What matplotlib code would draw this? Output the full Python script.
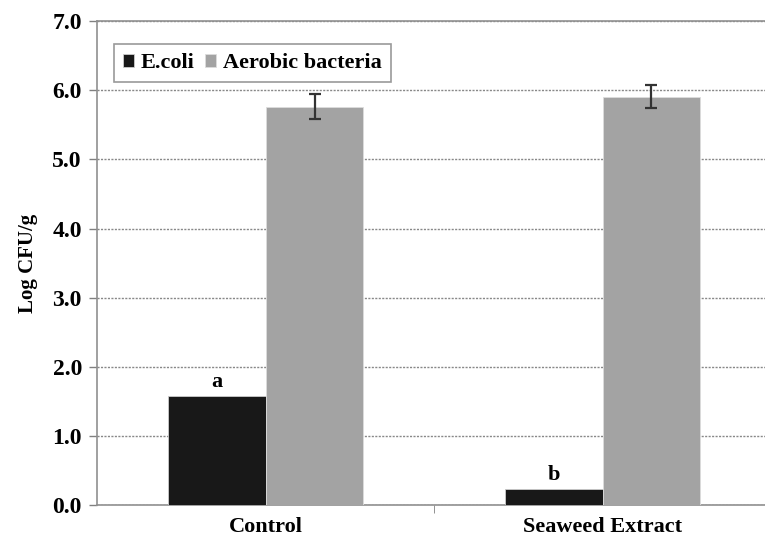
import numpy as np
import matplotlib.pyplot as plt

# data
groups = ['Control', 'Seaweed Extract']
ecoli = [1.58, 0.23]
aerobic = [5.76, 5.91]
aerobic_err = [0.18, 0.17]
letters = ['a', 'b']

plt.rcParams['font.family'] = ['Liberation Serif', 'DejaVu Serif']
plt.rcParams['font.weight'] = 'bold'

fig, ax = plt.subplots(figsize=(7.65, 5.43), dpi=100)
fig.subplots_adjust(left=0.127, right=1.008, top=0.961, bottom=0.07)

pos = np.arange(len(groups))
w = 0.29
ax.bar(pos - w / 2, ecoli, w, color='#181818', edgecolor='#cccccc', linewidth=0.6,
       label='E.coli', zorder=3)
ax.bar(pos + w / 2, aerobic, w, color='#a3a3a3', edgecolor='#dddddd', linewidth=0.6,
       label='Aerobic bacteria', zorder=3)
ax.errorbar(pos + w / 2, aerobic, yerr=aerobic_err, fmt='none', ecolor='#333333',
            elinewidth=1.6, capsize=4, capthick=1.6, zorder=4)

for p, v, t in zip(pos, ecoli, letters):
    ax.text(p - w / 2, v + 0.06, t, ha='center', va='bottom', fontsize=16,
            fontweight='bold')

ax.set_xlim(-0.5, 1.5)
ax.set_ylim(0, 7)
yt = np.arange(0, 7.01, 1.0)
ax.set_yticks(yt)
ax.set_yticklabels([f'{v:.1f}' for v in yt], fontsize=17, fontweight='bold')
ax.set_xticks(pos)
ax.set_xticklabels(groups, fontsize=16, fontweight='bold')
ax.set_xticks([0.5], minor=True)
ax.tick_params(axis='x', which='major', length=0, pad=9)
ax.tick_params(axis='x', which='minor', length=6, color='#808080', direction='out')
ax.tick_params(axis='y', length=6, color='#808080', width=1, pad=5)

ax.yaxis.grid(True, linestyle=(0, (1.5, 1)), color='#888888', linewidth=1, zorder=0)
ax.set_axisbelow(True)
ax.spines['right'].set_visible(False)
for s in ['left', 'bottom', 'top']:
    ax.spines[s].set_color('#909090')
    ax.spines[s].set_linewidth(1.2)

ax.set_ylabel('Log CFU/g', fontsize=15, fontweight='bold', labelpad=10)

leg = ax.legend(loc='upper left', bbox_to_anchor=(0.008, 0.975), ncol=2,
                frameon=True, fancybox=False, edgecolor='#808080', handlelength=0.5,
                handleheight=0.5, handletextpad=0.3, columnspacing=0.5,
                borderpad=0.4, prop={'weight': 'bold', 'size': 16})
leg.get_frame().set_linewidth(1.2)

plt.savefig('out.png', dpi=100)
